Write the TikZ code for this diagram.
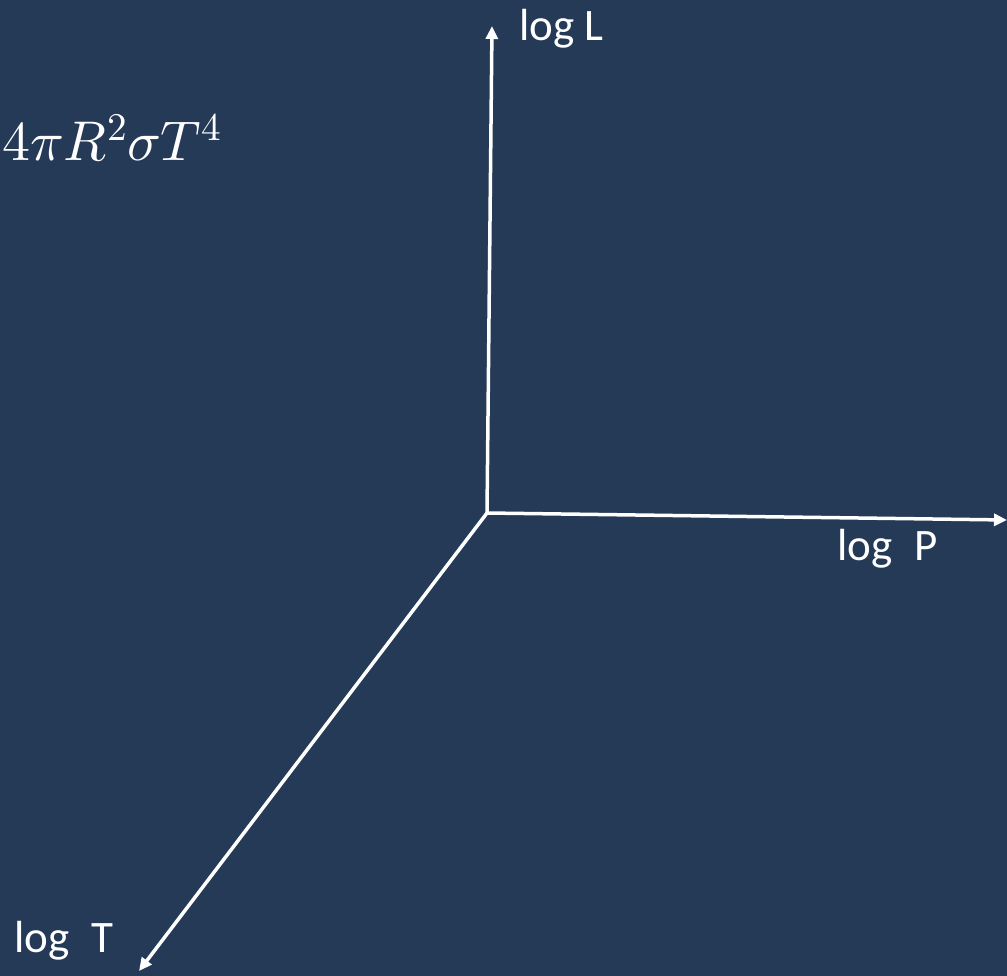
\documentclass[tikz,border=0pt]{standalone}
\usepackage{fontspec}
\usepackage{unicode-math}
\setmainfont{Carlito}
\setmathfont{Latin Modern Math}
\usetikzlibrary{arrows.meta}
\definecolor{bg}{HTML}{253A57}
\tikzset{
  axis/.style={draw=white, line width=3.5pt, -{Triangle[length=13pt,width=12pt]}},
  lbl/.style={text=white, inner sep=0pt, anchor=base west, font=\fontsize{45}{52}\selectfont},
}
\begin{document}
\begin{tikzpicture}[x=1pt,y=-1pt]
\fill[bg] (0,0) rectangle (1007,976);
\clip (0,0) rectangle (1007,976);
\coordinate (O) at (487,513);
\coordinate (Lt) at (492,26);
\coordinate (Pt) at (1007,520);
\coordinate (Tt) at (139,971);
\draw[axis] (O) -- (Lt);
\draw[axis] (O) -- (Pt);
\draw[axis] (O) -- (Tt);
\node[lbl] (lL) at (519,41) {log L};
\node[lbl] (lP) at (837,560) {log\hspace{0.5em}P};
\node[lbl] (lT) at (14,952) {log\hspace{0.5em}T};
\node[text=white, inner sep=0pt, anchor=base west, font=\fontsize{56}{64}\selectfont] (eq) at (2,161) {$4\pi R^2\sigma T^4$};
\end{tikzpicture}
\end{document}
